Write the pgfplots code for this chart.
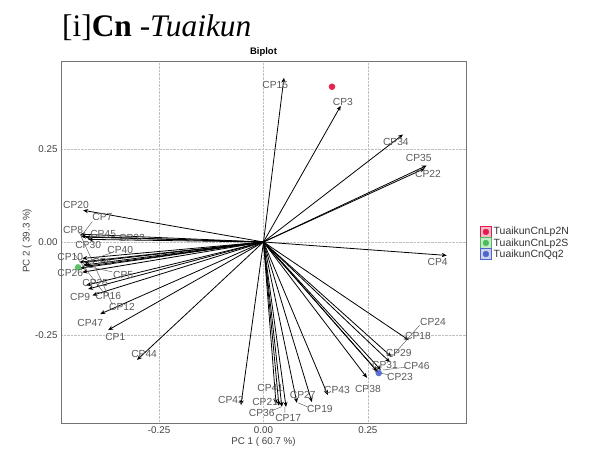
\documentclass[border=0pt]{standalone}
\usepackage{fontspec}
\setmainfont{Liberation Sans}
\newfontfamily\seriffont{Liberation Serif}
\usepackage{pgfplots}
\usepackage{pgfplotstable}
\pgfplotsset{compat=1.18}
\usetikzlibrary{arrows.meta}
\definecolor{cRed}{RGB}{228,26,74}
\definecolor{cGreen}{RGB}{76,187,90}
\definecolor{cBlue}{RGB}{80,100,205}
\definecolor{labgray}{RGB}{90,90,90}

\pgfplotstableread{
name x y lx ly
CP15 0.049 0.440 0.028 0.422
CP3 0.185 0.365 0.190 0.376
CP34 0.334 0.288 0.317 0.269
CP35 0.391 0.205 0.372 0.224
CP22 0.386 0.197 0.394 0.181
CP4 0.439 -0.036 0.417 -0.054
CP18 0.348 -0.263 0.370 -0.252
CP24 0.307 -0.308 0.406 -0.215
CP29 0.303 -0.322 0.324 -0.297
CP31 0.272 -0.346 0.291 -0.330
CP46 0.281 -0.343 0.367 -0.332
CP23 0.276 -0.351 0.327 -0.362
CP38 0.248 -0.364 0.250 -0.394
CP43 0.154 -0.410 0.176 -0.397
CP27 0.116 -0.429 0.094 -0.410
CP19 0.080 -0.431 0.135 -0.447
CP17 0.054 -0.442 0.059 -0.471
CP36 0.044 -0.442 -0.004 -0.458
CP21 0.037 -0.439 0.004 -0.429
CP41 0.030 -0.434 0.016 -0.391
CP42 -0.054 -0.437 -0.078 -0.423
CP20 -0.432 0.085 -0.449 0.098
CP7 -0.439 0.021 -0.386 0.066
CP8 -0.437 0.015 -0.456 0.031
CP45 -0.427 0.013 -0.384 0.021
CP32 -0.420 0.007 -0.315 0.010
CP30 -0.434 -0.044 -0.420 -0.009
CP40 -0.429 -0.055 -0.343 -0.022
CP10 -0.441 -0.054 -0.463 -0.041
CP6 -0.432 -0.062 -0.386 -0.054
CP26 -0.439 -0.070 -0.463 -0.084
CP5 -0.425 -0.065 -0.336 -0.089
CP25 -0.434 -0.081 -0.403 -0.110
CP9 -0.420 -0.126 -0.439 -0.148
CP16 -0.425 -0.116 -0.372 -0.145
CP12 -0.410 -0.143 -0.339 -0.175
CP47 -0.391 -0.193 -0.415 -0.217
CP1 -0.372 -0.236 -0.355 -0.255
CP44 -0.303 -0.316 -0.286 -0.300
}\vectors

\begin{document}
\begin{tikzpicture}
\path[use as bounding box] (0,0) rectangle (590bp,451bp);
\node[anchor=base west, inner sep=0, font=\seriffont\fontsize{31.5}{32}\selectfont] at (62bp,414bp) {[i]\textbf{Cn} -\textit{Tuaikun}};
\begin{axis}[
  at={(61bp,28bp)}, anchor=south west,
  scale only axis, width=405bp, height=362bp,
  xmin=-0.485, xmax=0.485, ymin=-0.485, ymax=0.485,
  xtick={-0.25,0,0.25}, ytick={-0.25,0,0.25},
  xticklabels={-0.25,0.00,0.25}, yticklabels={-0.25,0.00,0.25},
  /pgf/number format/assume math mode=true,
  tick style={draw=none},
  ticklabel style={font=\fontsize{9.8}{11}\selectfont, text=black!75},
  grid=major, grid style={densely dotted, black!25},
  axis line style={black!55, line width=0.6pt},
  title={\textbf{Biplot}},
  title style={font=\fontsize{9.5}{10}\selectfont, at={(axis description cs:0.5,1.0)}, anchor=south, yshift=-5bp},
  xlabel={PC 1 ( 60.7 \%)}, ylabel={PC 2 ( 39.3 \%)},
  label style={font=\fontsize{9.8}{11}\selectfont, text=black!75},
  xlabel style={at={(axis description cs:0.5,-0.052)}, anchor=center},
  ylabel style={at={(axis description cs:-0.084,0.503)}, anchor=center},
  clip=false,
  legend style={at={(axis description cs:1.027,0.552)}, anchor=north west, draw=none, fill=none,
    font=\fontsize{10.5}{11.5}\selectfont, row sep=-2bp, text=black!80,
    legend cell align=left},
]
% arrows
\addplot[forget plot, black, line width=0.8pt, -{Stealth[length=5bp,width=4.2bp]},
  quiver={u=\thisrow{x}, v=\thisrow{y}}]
  table[x expr=0, y expr=0] {\vectors};
% leader lines
\addplot[forget plot, labgray, line width=0.45pt, unbounded coords=jump] coordinates {
(0.374,-0.223) (0.307,-0.308) (nan,nan)
(0.343,-0.335) (0.286,-0.343) (nan,nan)
(0.300,-0.356) (0.279,-0.351) (nan,nan)
(0.106,-0.442) (0.083,-0.431) (nan,nan)
(0.051,-0.457) (0.051,-0.442) (nan,nan)
(0.020,-0.452) (0.042,-0.442) (nan,nan)
(-0.410,0.055) (-0.437,0.015) (nan,nan)
(-0.362,-0.080) (-0.425,-0.065) (nan,nan)
(-0.362,-0.028) (-0.429,-0.055) (nan,nan)
(-0.443,0.030) (-0.362,-0.168) (nan,nan)
(-0.455,-0.030) (-0.380,-0.140)
};
% group points
\addplot[forget plot, only marks, mark=*, mark size=3.3bp, cRed, fill opacity=0.95, draw opacity=0] coordinates {(0.164,0.416)};
\addplot[forget plot, only marks, mark=*, mark size=3.3bp, cGreen, fill opacity=0.9, draw opacity=0] coordinates {(-0.444,-0.068)};
\addplot[forget plot, only marks, mark=*, mark size=3.3bp, cBlue, fill opacity=0.9, draw opacity=0] coordinates {(0.276,-0.351)};
% labels
\addplot[forget plot, only marks, mark=none, point meta=explicit symbolic,
  nodes near coords, nodes near coords align=center,
  every node near coord/.append style={font=\fontsize{10.3}{11}\selectfont, text=labgray, inner sep=0pt, anchor=center}]
  table[x=lx, y=ly, meta=name] {\vectors};
% legend
\addlegendimage{legend image code/.code={
  \draw[cRed, fill=cRed!30, line width=0.6pt] (0bp,-5.3bp) rectangle (11bp,5.3bp);
  \fill[cRed] (5.5bp,0bp) circle (2.9bp);}}
\addlegendentry{TuaikunCnLp2N}
\addlegendimage{legend image code/.code={
  \draw[cGreen, fill=cGreen!30, line width=0.6pt] (0bp,-5.3bp) rectangle (11bp,5.3bp);
  \fill[cGreen] (5.5bp,0bp) circle (2.9bp);}}
\addlegendentry{TuaikunCnLp2S}
\addlegendimage{legend image code/.code={
  \draw[cBlue, fill=cBlue!30, line width=0.6pt] (0bp,-5.3bp) rectangle (11bp,5.3bp);
  \fill[cBlue] (5.5bp,0bp) circle (2.9bp);}}
\addlegendentry{TuaikunCnQq2}
\end{axis}
\end{tikzpicture}
\end{document}
